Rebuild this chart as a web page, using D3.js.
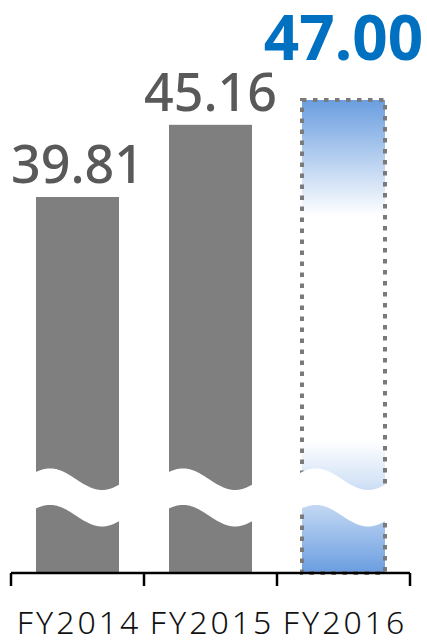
<!DOCTYPE html>
<html>
  <head>
    <title>FY bars</title>
    <script src="https://cdn.jsdelivr.net/npm/d3@7"></script>
    <style>
      body { margin: 0; background: #fff; }
    </style>
  </head>
  <body>
    <svg width="427" height="640" id="mainsvg"></svg>
    <script>
    // data
    const years = ['FY2014', 'FY2015', 'FY2016'];
    const values = [39.81, 45.16, 47.00];
    const labels = ['39.81', '45.16', '47.00'];
    const forecast = [false, false, true];
    const axisBase = 11.94; // value shown at the (broken) baseline

    let svg = d3.select('#mainsvg');
    const baseY = 573, topY = 100;

    let x = d3.scaleBand().domain(years).range([11, 410])
        .paddingInner(0.376).paddingOuter(0.188);
    let y = d3.scaleLinear().domain([axisBase, 47]).range([baseY, topY]);

    // gradient for the forecast bar
    let defs = svg.append('defs');
    let grad = defs.append('linearGradient').attr('id', 'fcGrad')
        .attr('gradientUnits', 'userSpaceOnUse')
        .attr('x1', 0).attr('x2', 0).attr('y1', topY).attr('y2', baseY);
    const stops = [[0, '#6a9ee0'], [0.245, '#ffffff'], [0.72, '#ffffff'],
                   [0.83, '#c9dcf4'], [0.856, '#c3d8f3'], [1, '#6a9de0']];
    grad.selectAll('stop').data(stops).join('stop')
        .attr('offset', d => d[0]).attr('stop-color', d => d[1]);

    let data = years.map((d, i) => ({year: d, value: values[i], label: labels[i], fc: forecast[i]}));

    let bw = x.bandwidth();
    svg.selectAll('rect.bar').data(data).join('rect')
        .attr('class', 'bar')
        .attr('x', d => x(d.year))
        .attr('y', d => y(d.value))
        .attr('width', bw)
        .attr('height', d => baseY - y(d.value))
        .attr('fill', d => d.fc ? 'url(#fcGrad)' : '#7f7f7f')
        .attr('stroke', d => d.fc ? '#7a7a7a' : 'none')
        .attr('stroke-width', 4)
        .attr('stroke-dasharray', '4.5 6.5');

    // wavy break band (white) over each bar
    const amp = 10.8, period = 104, peakOff = 14, mid = 479.2, gap = 36.5;
    function breakPath(x0) {
        let pts = d3.range(-4, bw + 5, 1).map(t => [x0 + t, mid - amp * Math.cos(2 * Math.PI * (t - peakOff) / period)]);
        let upper = d3.line()(pts);
        let lower = pts.slice().reverse().map(p => [p[0], p[1] + gap]);
        return upper + 'L' + d3.line()(lower).slice(1) + 'Z';
    }
    svg.selectAll('path.brk').data(data).join('path')
        .attr('class', 'brk')
        .attr('d', d => breakPath(x(d.year)))
        .attr('fill', '#fff');

    // value labels
    svg.selectAll('text.val').data(data).join('text')
        .attr('class', 'val')
        .attr('x', d => x(d.year) + bw / 2)
        .attr('y', d => y(d.value) - (d.fc ? 40 : 14))
        .attr('text-anchor', 'middle')
        .attr('font-family', 'Noto Sans')
        .attr('font-size', d => d.fc ? 62 : 52)
        .attr('font-weight', d => d.fc ? 700 : 500)
        .attr('fill', d => d.fc ? '#0070c0' : '#595959')
        .text(d => d.label);

    // axis: line + ticks at category boundaries
    let half = x.step() * x.paddingInner() / 2;
    let bounds = years.map(d => x(d) - half).concat([x(years[2]) + bw + half]);
    let ax = svg.append('g').attr('stroke', '#000').attr('stroke-width', 2.5);
    ax.append('line').attr('x1', bounds[0]).attr('x2', bounds[3]).attr('y1', baseY).attr('y2', baseY);
    ax.selectAll('line.tk').data(bounds).join('line').attr('class', 'tk')
        .attr('x1', d => d).attr('x2', d => d).attr('y1', baseY).attr('y2', baseY + 13);

    svg.selectAll('text.cat').data(years).join('text')
        .attr('class', 'cat')
        .attr('x', d => x(d) + bw / 2 + 1.5)
        .attr('y', 634)
        .attr('text-anchor', 'middle')
        .attr('font-family', 'Noto Sans')
        .attr('font-size', 32)
        .attr('font-weight', 300)
        .attr('letter-spacing', 3)
        .attr('fill', '#111')
        .text(d => d);
    </script>
  </body>
</html>
